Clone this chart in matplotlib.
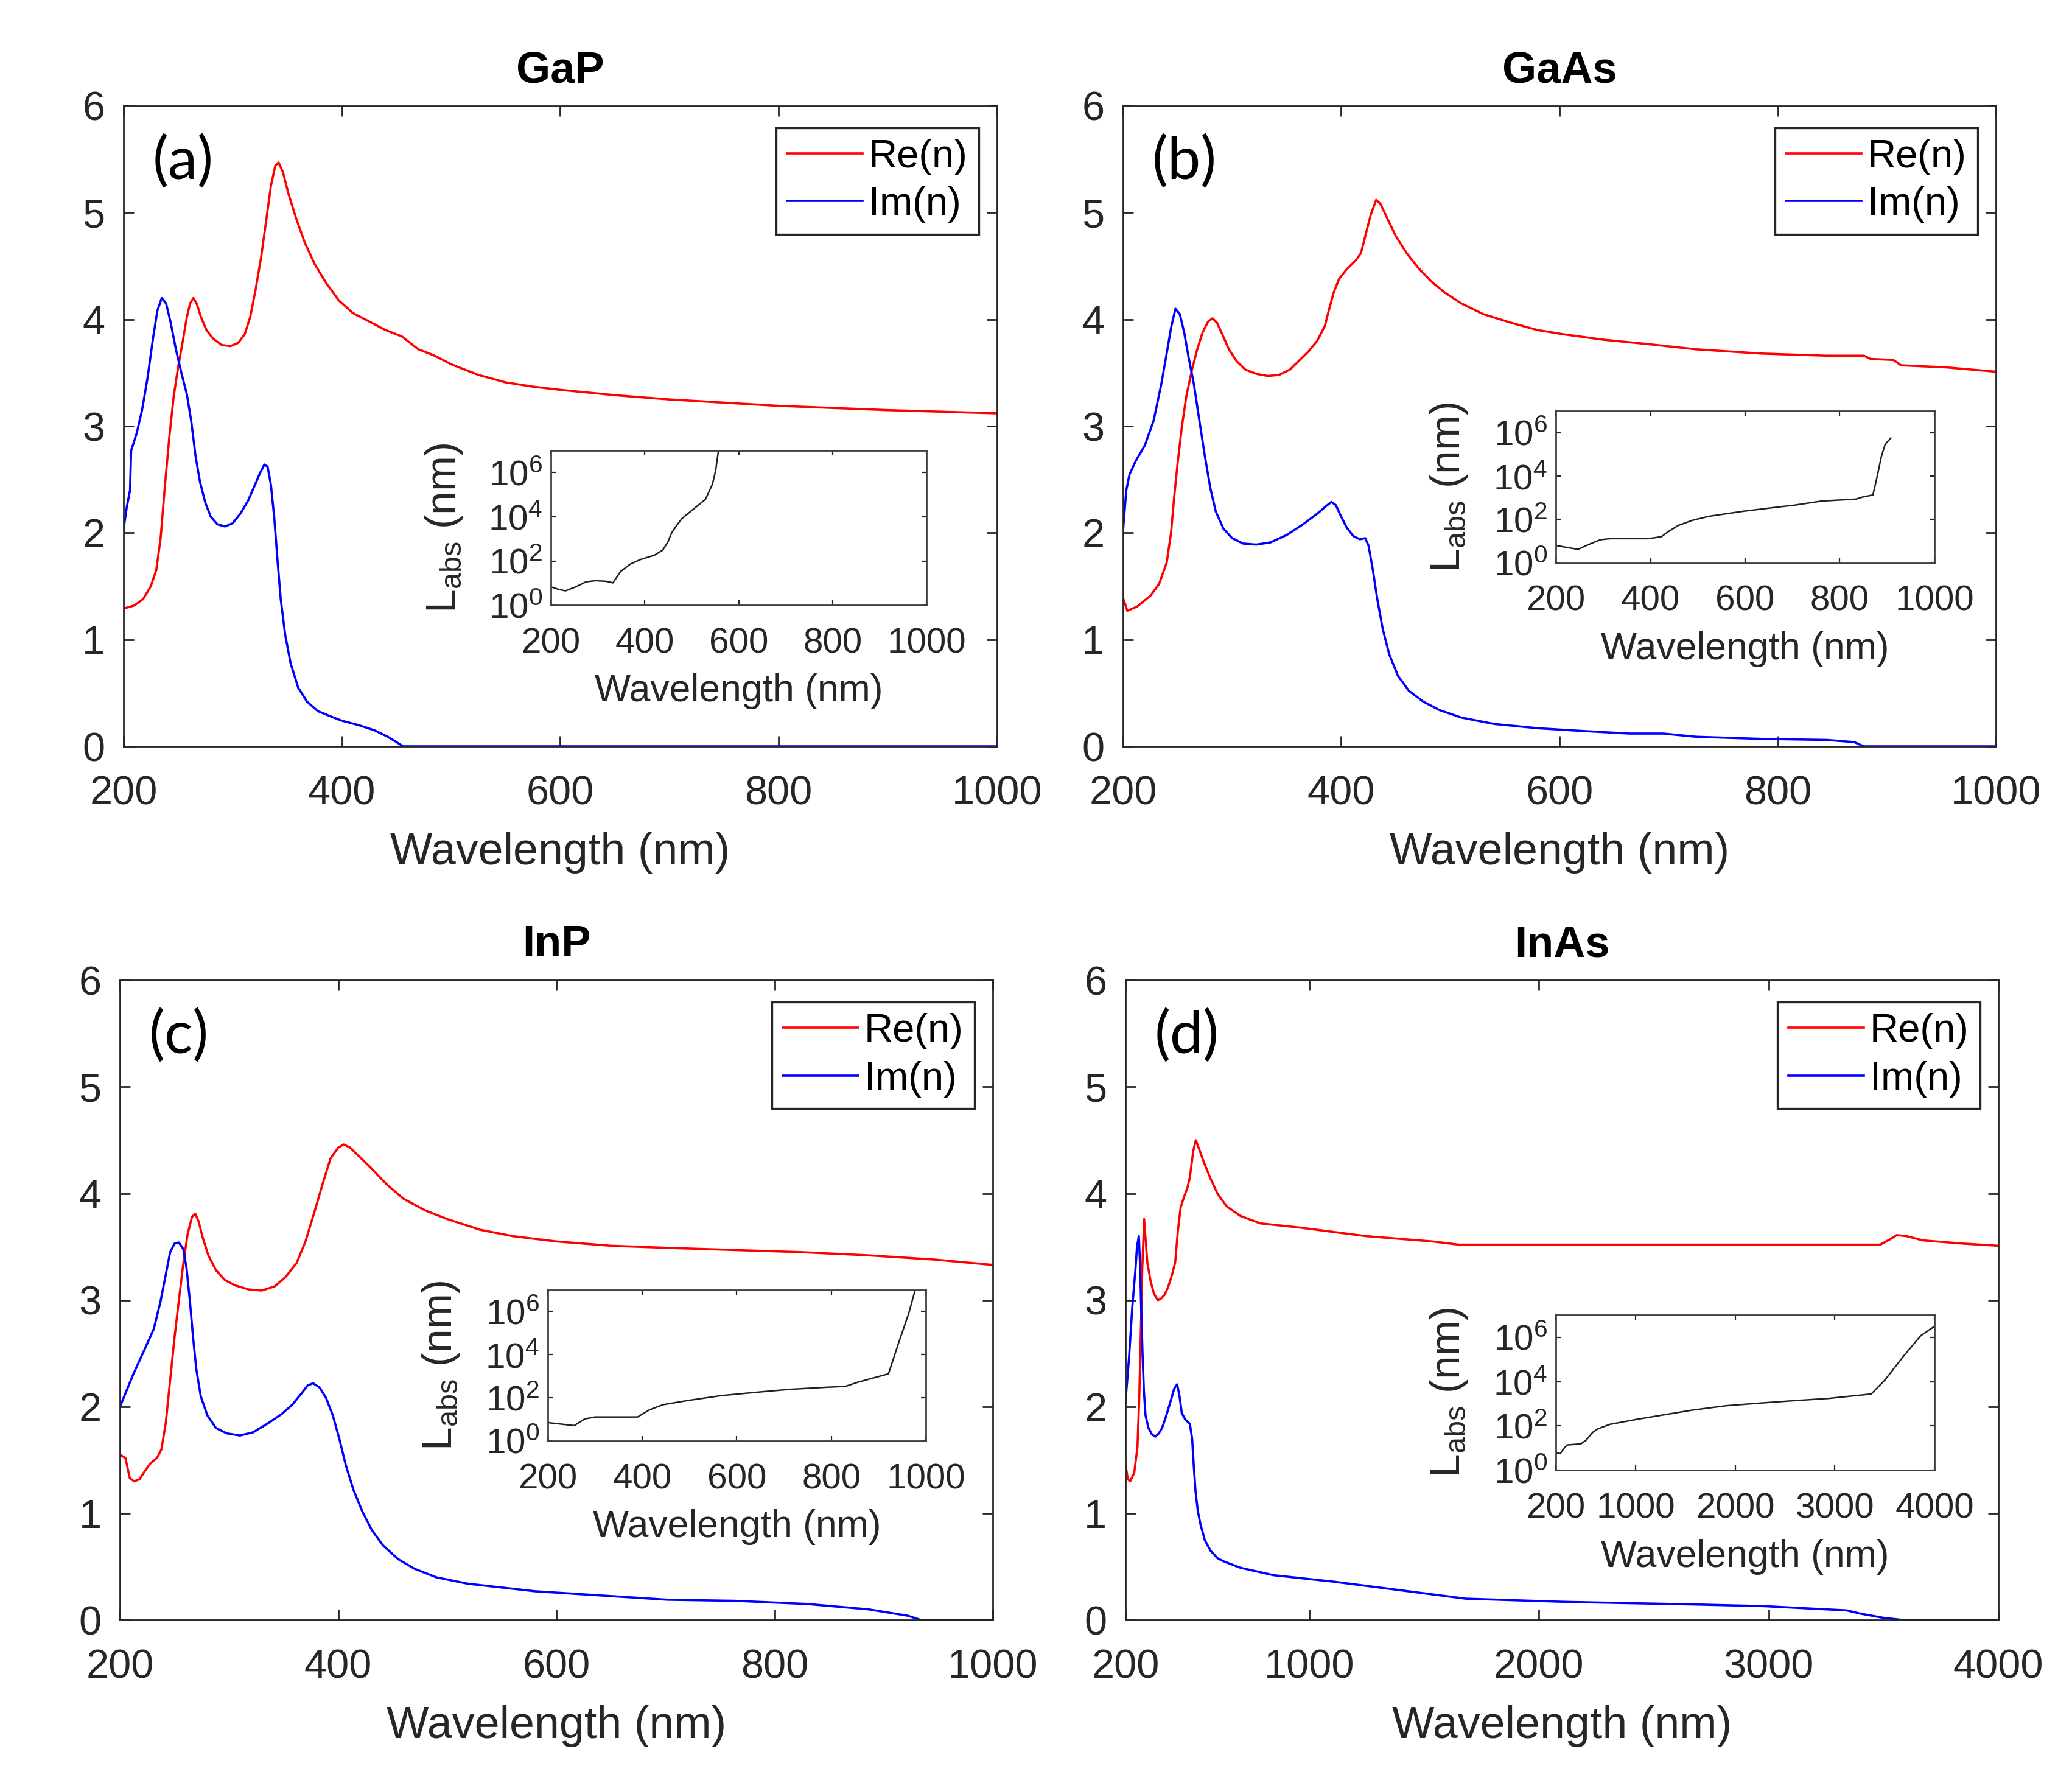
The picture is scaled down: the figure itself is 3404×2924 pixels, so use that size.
import numpy as np
import matplotlib
matplotlib.use("Agg")
import matplotlib.pyplot as plt
from matplotlib.ticker import FixedLocator, FuncFormatter, NullLocator

# ---- data ----
# GaP
gap_re_wl = [200, 210, 218, 225, 230, 234, 238, 242, 246, 250, 254, 258, 261, 264, 267, 271, 276, 282,
             290, 298, 305, 311, 316, 321, 326, 331, 335, 339, 342, 346, 351, 358, 366, 375, 385, 397,
             410, 425, 440, 455, 470, 485, 500, 525, 550, 575, 600, 650, 700, 750, 800, 900, 1000]
gap_re = [1.29, 1.32, 1.38, 1.50, 1.65, 1.95, 2.45, 2.90, 3.28, 3.55, 3.78, 4.02, 4.15, 4.20, 4.15, 4.02, 3.90, 3.82,
          3.76, 3.75, 3.78, 3.86, 4.02, 4.28, 4.58, 4.95, 5.25, 5.44, 5.47, 5.38, 5.18, 4.95, 4.72, 4.52, 4.35, 4.18,
          4.06, 3.98, 3.90, 3.84, 3.72, 3.66, 3.58, 3.48, 3.41, 3.37, 3.34, 3.29, 3.25, 3.22, 3.19, 3.15, 3.12]
gap_im_wl = [200, 203, 206, 207, 212, 217, 222, 227, 231, 235, 239, 243, 248, 253, 258, 262, 266, 270,
             275, 280, 286, 293, 300, 307, 314, 320, 325, 329, 332, 335, 338, 341, 344, 348, 353, 360,
             368, 378, 390, 400, 415, 430, 442, 450, 456, 1000]
gap_im = [2.03, 2.24, 2.40, 2.77, 2.93, 3.15, 3.45, 3.82, 4.08, 4.20, 4.15, 3.98, 3.72, 3.50, 3.30, 3.05, 2.72, 2.48,
          2.28, 2.15, 2.08, 2.06, 2.09, 2.18, 2.30, 2.44, 2.56, 2.64, 2.62, 2.45, 2.15, 1.75, 1.38, 1.05, 0.78, 0.55,
          0.42, 0.33, 0.28, 0.24, 0.20, 0.15, 0.09, 0.04, 0.0, 0.0]
gap_labs_wl = [200, 217, 231, 253, 275, 296, 318, 332, 348, 369, 391, 420, 438, 449, 457, 467,
               479, 500, 529, 544, 551, 558]
gap_labs_log10 = [0.83, 0.71, 0.65, 0.83, 1.06, 1.11, 1.08, 1.01, 1.52, 1.86, 2.07, 2.26, 2.49, 2.86, 3.27, 3.59,
                  3.92, 4.29, 4.79, 5.48, 6.13, 7.2]

# GaAs
gaas_re_wl = [200, 204, 213, 225, 233, 240, 244, 247, 250, 254, 258, 263, 268, 273, 278, 282, 286, 291,
              297, 304, 312, 322, 333, 343, 353, 362, 370, 378, 385, 389, 393, 398, 405, 413, 418, 422,
              427, 432, 436, 442, 450, 460, 470, 482, 495, 510, 530, 555, 580, 604, 640, 680, 725, 785,
              845, 879, 885, 906, 913, 955, 1000]
gaas_re = [1.39, 1.27, 1.31, 1.41, 1.52, 1.72, 2.00, 2.35, 2.65, 3.00, 3.28, 3.52, 3.72, 3.88, 3.98, 4.01, 3.97, 3.86,
           3.72, 3.61, 3.53, 3.49, 3.47, 3.48, 3.53, 3.62, 3.70, 3.80, 3.94, 4.10, 4.25, 4.38, 4.47, 4.55, 4.62, 4.78,
           4.98, 5.12, 5.08, 4.95, 4.78, 4.62, 4.49, 4.36, 4.25, 4.15, 4.05, 3.97, 3.90, 3.86, 3.81, 3.77, 3.72, 3.68,
           3.66, 3.66, 3.63, 3.62, 3.57, 3.55, 3.51]
gaas_im_wl = [200, 203, 206, 212, 220, 228, 235, 240, 244, 248, 252, 256, 260, 265, 270, 275, 280, 285,
              292, 300, 310, 322, 335, 350, 365, 378, 386, 391, 395, 400, 405, 411, 417, 422, 425, 429,
              433, 438, 444, 452, 462, 475, 490, 510, 540, 580, 620, 664, 695, 725, 785, 845, 870, 879, 1000]
gaas_im = [2.02, 2.40, 2.55, 2.68, 2.82, 3.05, 3.39, 3.68, 3.92, 4.10, 4.05, 3.88, 3.65, 3.39, 3.05, 2.72, 2.42, 2.20,
           2.04, 1.95, 1.90, 1.89, 1.91, 1.98, 2.08, 2.18, 2.25, 2.29, 2.26, 2.15, 2.05, 1.97, 1.94, 1.95, 1.88, 1.65,
           1.38, 1.10, 0.86, 0.66, 0.52, 0.42, 0.34, 0.27, 0.21, 0.17, 0.145, 0.12, 0.12, 0.09, 0.07, 0.06, 0.04,
           0.0, 0.0]
gaas_labs_wl = [200, 222, 247, 268, 294, 315, 359, 395, 423, 438, 459, 488, 524, 596, 668, 704, 762,
                834, 849, 870, 878, 888, 896, 908]
gaas_labs_log10 = [0.81, 0.72, 0.63, 0.84, 1.07, 1.12, 1.12, 1.12, 1.21, 1.45, 1.73, 1.96, 2.15, 2.38, 2.57, 2.66,
                   2.85, 2.94, 3.04, 3.13, 3.88, 4.91, 5.47, 5.75]

# InP
inp_re_wl = [200, 205, 209, 213, 218, 223, 228, 234, 238, 242, 246, 250, 254, 258, 262, 266, 269, 272,
             276, 281, 288, 296, 305, 318, 330, 342, 352, 362, 370, 378, 386, 393, 400, 405, 411, 420,
             430, 445, 460, 480, 500, 530, 560, 600, 650, 702, 763, 824, 886, 947, 1000]
inp_re = [1.55, 1.52, 1.33, 1.30, 1.32, 1.40, 1.47, 1.52, 1.60, 1.85, 2.25, 2.65, 3.00, 3.34, 3.62, 3.78, 3.81, 3.74,
          3.58, 3.42, 3.28, 3.19, 3.14, 3.10, 3.09, 3.13, 3.22, 3.35, 3.55, 3.82, 4.10, 4.33, 4.43, 4.46, 4.43, 4.34,
          4.24, 4.08, 3.95, 3.84, 3.76, 3.66, 3.60, 3.55, 3.51, 3.49, 3.47, 3.45, 3.42, 3.38, 3.33]
inp_im_wl = [200, 212, 224, 231, 237, 242, 246, 250, 254, 258, 261, 264, 267, 270, 274, 280, 288, 298,
             310, 322, 335, 348, 358, 366, 372, 377, 383, 389, 395, 401, 407, 414, 422, 431, 441, 455,
             470, 490, 519, 580, 641, 702, 763, 830, 886, 922, 934, 1000]
inp_im = [2.00, 2.30, 2.57, 2.73, 2.98, 3.24, 3.45, 3.53, 3.54, 3.48, 3.30, 3.00, 2.65, 2.35, 2.10, 1.92, 1.80, 1.75,
          1.73, 1.76, 1.84, 1.93, 2.02, 2.12, 2.20, 2.22, 2.18, 2.08, 1.92, 1.70, 1.45, 1.22, 1.02, 0.84, 0.70, 0.57,
          0.48, 0.40, 0.34, 0.27, 0.23, 0.19, 0.18, 0.15, 0.10, 0.04, 0.0, 0.0]
inp_labs_wl = [200, 227, 256, 278, 300, 350, 390, 415, 444, 495, 567, 639, 711, 783, 830, 856, 921,
               942, 964, 980]
inp_labs_log10 = [0.85, 0.78, 0.71, 1.02, 1.11, 1.11, 1.11, 1.44, 1.68, 1.87, 2.10, 2.25, 2.39, 2.48, 2.53, 2.72,
                  3.11, 4.51, 5.92, 7.2]

# InAs
inas_re_wl = [200, 210, 220, 238, 252, 260, 266, 273, 281, 288, 295, 310, 324, 340, 353, 370, 385, 400,
              416, 428, 440, 455, 469, 480, 495, 506, 520, 540, 570, 600, 640, 700, 786, 960, 1248, 1537,
              1652, 2691, 3485, 3528, 3557, 3600, 3672, 3846, 4000]
inas_re = [1.46, 1.32, 1.30, 1.38, 1.62, 2.10, 2.64, 3.30, 3.76, 3.55, 3.35, 3.17, 3.06, 3.00, 3.01, 3.05, 3.12, 3.22,
           3.35, 3.65, 3.87, 3.97, 4.05, 4.15, 4.40, 4.50, 4.42, 4.30, 4.14, 4.00, 3.88, 3.79, 3.72, 3.68, 3.60, 3.55,
           3.52, 3.52, 3.52, 3.57, 3.61, 3.60, 3.56, 3.53, 3.51]
inas_im_wl = [200, 215, 230, 243, 250, 258, 263, 268, 274, 280, 287, 300, 315, 330, 345, 359, 375, 396,
              412, 425, 435, 445, 460, 480, 490, 497, 505, 515, 526, 545, 570, 600, 627, 700, 844, 1104,
              1393, 1681, 2114, 2691, 2980, 3340, 3398, 3500, 3585, 4000]
inas_im = [2.05, 2.45, 2.95, 3.28, 3.50, 3.60, 3.35, 2.95, 2.50, 2.15, 1.92, 1.80, 1.74, 1.72, 1.75, 1.80, 1.90, 2.05,
           2.17, 2.21, 2.10, 1.94, 1.88, 1.84, 1.70, 1.45, 1.20, 1.02, 0.90, 0.75, 0.65, 0.58, 0.55, 0.49, 0.42, 0.36,
           0.28, 0.20, 0.17, 0.145, 0.13, 0.09, 0.06, 0.02, 0.0, 0.0]
inas_labs_wl = [200, 245, 279, 313, 450, 502, 570, 622, 742, 1016, 1565, 1908, 2251, 2594, 2937, 3366,
                3503, 3692, 3863, 3983, 4000]
inas_labs_log10 = [0.80, 0.75, 0.98, 1.14, 1.19, 1.35, 1.71, 1.87, 2.07, 2.30, 2.71, 2.91, 3.03, 3.14, 3.24, 3.44,
                   4.07, 5.16, 6.07, 6.44, 6.48]

titles = ["GaP", "GaAs", "InP", "InAs"]
panel_tags = ["(a)", "(b)", "(c)", "(d)"]
xticks_short = [200, 400, 600, 800, 1000]
xticks_long = [200, 1000, 2000, 3000, 4000]

panels = [
    (gap_re_wl, gap_re, gap_im_wl, gap_im, gap_labs_wl, gap_labs_log10, xticks_short),
    (gaas_re_wl, gaas_re, gaas_im_wl, gaas_im, gaas_labs_wl, gaas_labs_log10, xticks_short),
    (inp_re_wl, inp_re, inp_im_wl, inp_im, inp_labs_wl, inp_labs_log10, xticks_short),
    (inas_re_wl, inas_re, inas_im_wl, inas_im, inas_labs_wl, inas_labs_log10, xticks_long),
]

# ---- layout (figure fractions) ----
main_pos = [
    [0.0596, 0.5807, 0.4216, 0.3598],
    [0.5420, 0.5807, 0.4213, 0.3598],
    [0.0579, 0.0899, 0.4213, 0.3594],
    [0.5432, 0.0899, 0.4213, 0.3594],
]
inset_pos = [
    [0.2659, 0.6600, 0.1813, 0.0869],
    [0.7509, 0.6837, 0.1827, 0.0855],
    [0.2644, 0.1905, 0.1824, 0.0848],
    [0.7509, 0.1740, 0.1827, 0.0872],
]

plt.rcParams["font.family"] = ["Liberation Sans", "DejaVu Sans"]
plt.rcParams["mathtext.fontset"] = "custom"
plt.rcParams["mathtext.rm"] = "Liberation Sans"
plt.rcParams["mathtext.it"] = "Liberation Sans"

axis_col = "#262626"
fig = plt.figure(figsize=(17.02, 14.62), dpi=200, facecolor="white")

for i, (rwl, rv, iwl, iv, lwl, lv, xt) in enumerate(panels):
    ax = fig.add_axes(main_pos[i])
    ax.plot(rwl, rv, color="#ff0000", lw=1.3, label="Re(n)")
    ax.plot(iwl, iv, color="#0000ff", lw=1.3, label="Im(n)")
    ax.set_xlim(xt[0], xt[-1])
    ax.set_ylim(0, 6)
    ax.set_xticks(xt)
    ax.set_yticks(range(7))
    ax.tick_params(direction="in", top=True, right=True, length=6, width=1.0,
                   labelsize=24, colors=axis_col)
    ax.tick_params(axis="x", pad=17)
    ax.tick_params(axis="y", pad=11)
    for s in ax.spines.values():
        s.set_color(axis_col)
        s.set_linewidth(1.0)
    ax.set_xlabel("Wavelength (nm)", fontsize=26.5, color=axis_col, labelpad=11)
    ax.set_title(titles[i], fontsize=26, fontweight="bold", pad=14)
    ax.text(0.033, 0.913, panel_tags[i], transform=ax.transAxes, fontsize=35,
            family=["Lato", "DejaVu Sans"], ha="left", va="center")
    leg = ax.legend(loc="upper right", bbox_to_anchor=(0.979, 0.966), borderaxespad=0,
                    fontsize=23.5, fancybox=False, framealpha=1, edgecolor=axis_col,
                    handlelength=1.9, handletextpad=0.15, borderpad=0.28, labelspacing=0.28)
    leg.get_frame().set_linewidth(1.2)

    ins = fig.add_axes(inset_pos[i])
    ins.plot(lwl, 10.0 ** np.array(lv), color="#202020", lw=0.9)
    ins.set_yscale("log")
    ins.set_xlim(xt[0], xt[-1])
    ins.set_ylim(1, 1e7)
    ins.set_xticks(xt)
    ins.yaxis.set_major_locator(FixedLocator([1, 1e2, 1e4, 1e6]))
    ins.yaxis.set_minor_locator(NullLocator())
    ins.yaxis.set_major_formatter(FuncFormatter(
        lambda v, p: r"$\mathregular{10^{%d}}$" % round(np.log10(v))))
    ins.tick_params(direction="in", top=True, right=True, length=3, width=0.8,
                    labelsize=21, colors=axis_col)
    ins.tick_params(axis="x", pad=13)
    ins.tick_params(axis="y", pad=5)
    for s in ins.spines.values():
        s.set_color("#404040")
        s.set_linewidth(1.0)
    ins.set_xlabel("Wavelength (nm)", fontsize=22.5, color=axis_col, labelpad=8)
    ins.set_ylabel(r"L$_\mathregular{abs}$ (nm)", fontsize=25, color=axis_col, labelpad=14)

fig.savefig("out.png", dpi=200, facecolor="white")
